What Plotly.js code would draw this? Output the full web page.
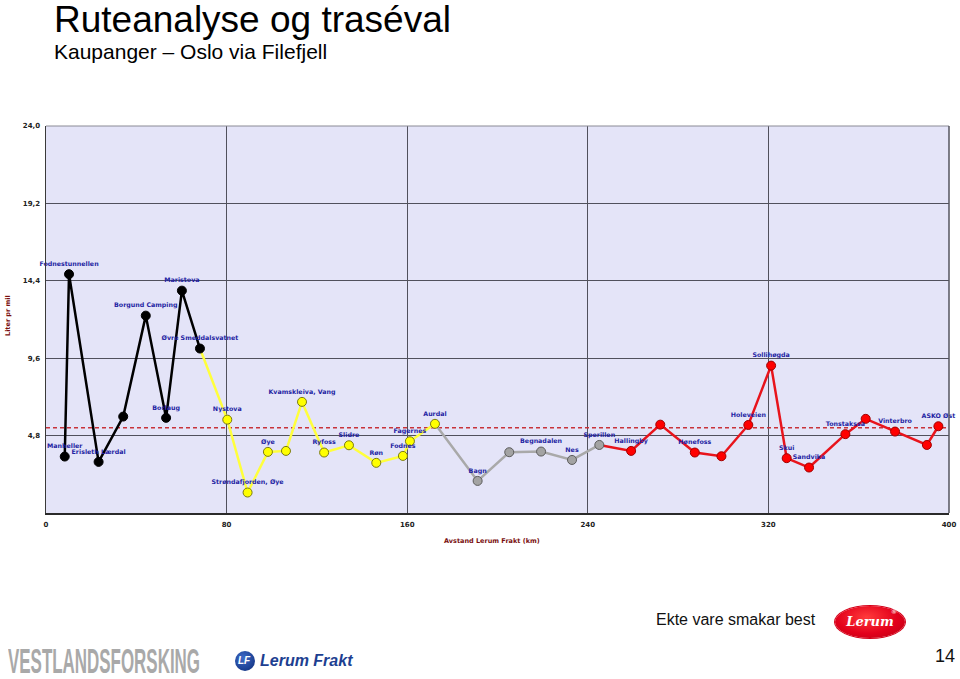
<!DOCTYPE html>
<html>
<head>
<meta charset="utf-8">
<script src="https://cdn.plot.ly/plotly-3.0.1.min.js"></script>
<style>
  html, body { margin: 0; padding: 0; background: #fff; }
  #wrap { position: relative; width: 960px; height: 679px; overflow: hidden; }
  #chart { position: absolute; left: 0; top: 0; width: 960px; height: 679px; }
  .ov { position: absolute; white-space: nowrap; line-height: 1; }
</style>
</head>
<body>
<div id="wrap">
  <div id="chart"></div>
  <div class="ov" id="slogan" style="left:656px; top:612px; font-family:'Liberation Sans', Arial, sans-serif; font-size:16px; color:#111;">Ekte vare smakar best</div>
  <div class="ov" id="lerumOval" style="left:835px; top:606px; width:70px; height:32px; border-radius:50%; background:radial-gradient(ellipse at 45% 35%, #ff3b3b 0%, #e3001b 55%, #b80012 100%); box-shadow:0 0 0 1px #d40018;"></div>
  <div class="ov" id="lerumTxt" style="left:845px; top:615px; font-family:'DejaVu Serif', serif; font-style:italic; font-weight:bold; font-size:13px; color:#fff;">Lerum</div>
  <div class="ov" style="left:891px; top:609px; font-family:'DejaVu Sans', sans-serif; font-size:6px; color:#fff;">®</div>
  <div class="ov" id="page" style="left:935px; top:647px; font-family:'Liberation Sans', Arial, sans-serif; font-size:18px; color:#111;">14</div>
  <div class="ov" id="vest" style="left:8px; top:643px; font-family:'Liberation Sans', Arial, sans-serif; font-weight:bold; font-size:35px; color:#a9a9a9; transform-origin:0 0;">VESTLANDSFORSKING</div>
  <div class="ov" style="left:235px; top:651px; width:20px; height:20px; border-radius:50%; background:radial-gradient(circle at 40% 35%, #3f6cc9 0%, #1a3d8f 70%, #10296a 100%);"></div>
  <div class="ov" style="left:238px; top:656px; font-family:'Liberation Sans', Arial, sans-serif; font-style:italic; font-weight:bold; font-size:10px; color:#fff;">LF</div>
  <div class="ov" style="left:260px; top:653px; font-family:'Liberation Sans', Arial, sans-serif; font-style:italic; font-weight:bold; font-size:16px; color:#1d3f91;">Lerum Frakt</div>
</div>
<script>
// ---------- data ----------
const blackKm = [8.3, 10.2, 23.3, 34.2, 44.2, 53.2, 60.2, 68.2];
const blackL  = [3.50, 14.81, 3.17, 5.98, 12.24, 5.90, 13.79, 10.20];
const blackNames = ['Manheller', 'Fodnestunnellen', 'Erisleth Lærdal', '', 'Borgund Camping', 'Borlaug', 'Maristova', 'Øvre Smeddalsvatnet'];

const yellowKm = [80.3, 89.3, 98.3, 106.3, 113.4, 123.2, 134.2, 146.3, 158.1, 161.2, 172.3];
const yellowL  = [5.79, 1.27, 3.79, 3.85, 6.89, 3.75, 4.20, 3.11, 3.54, 4.45, 5.53];
const yellowNames = ['Nystova', 'Strøndafjorden, Øye', 'Øye', '', 'Kvamskleiva, Vang', 'Ryfoss', 'Slidre', 'Røn', 'Fodnes', 'Fagernes', 'Aurdal'];

const greyKm = [191.2, 205.2, 219.3, 233.0, 245.1];
const greyL  = [1.99, 3.77, 3.81, 3.29, 4.22];
const greyNames = ['Bagn', '', 'Begnadalen', 'Nes', 'Sperillen'];

const redKm = [259.2, 272.1, 287.4, 299.2, 311.1, 321.2, 328.1, 338.0, 354.1, 363.1, 376.1, 390.2, 395.3];
const redL  = [3.85, 5.48, 3.75, 3.52, 5.46, 9.14, 3.40, 2.82, 4.89, 5.84, 5.05, 4.22, 5.38];
const redNames = ['Hallingby', '', 'Hønefoss', '', 'Holeveien', 'Sollihøgda', 'Skui', 'Sandvika', 'Tonstakssa', '', 'Vinterbro', '', 'ASKO Øst'];

const averageL = 5.28;
const xTicks = [0, 80, 160, 240, 320, 400];
const yTicks = [4.8, 9.6, 14.4, 19.2, 24.0];

// ---------- geometry helpers (plot area in px) ----------
const PL = 46, PR = 949, PT = 126, PB = 513;
const px2x = p => (p - PL) / (PR - PL);
const py2y = p => (PB - p) / (PB - PT);

const labelFont = {family: 'DejaVu Sans', size: 6.3, color: '#1f1fa3', weight: 'bold'};

function lineTrace(xs, ys, prevX, prevY, color) {
  const x = prevX === null ? xs.slice() : [prevX].concat(xs);
  const y = prevY === null ? ys.slice() : [prevY].concat(ys);
  return {x, y, mode: 'lines', type: 'scatter', hoverinfo: 'skip',
          line: {color, width: 2.5}, showlegend: false, cliponaxis: false};
}
function markerTrace(xs, ys, names, fill, edge) {
  return {x: xs, y: ys, text: names, mode: 'markers+text', type: 'scatter',
          textposition: 'top center', textfont: labelFont,
          marker: {size: 9, color: fill, line: {color: edge, width: 1}},
          showlegend: false, cliponaxis: false};
}

const last = a => a[a.length - 1];

const traces = [
  {x: [0, 400], y: [averageL, averageL], mode: 'lines', type: 'scatter', hoverinfo: 'skip',
   line: {color: '#c8333a', width: 1.5, dash: '4px,3px'}, showlegend: false},
  lineTrace(blackKm, blackL, null, null, '#000000'),
  lineTrace(yellowKm, yellowL, last(blackKm), last(blackL), '#ffff3c'),
  lineTrace(greyKm, greyL, last(yellowKm), last(yellowL), '#a9a9a9'),
  lineTrace(redKm, redL, last(greyKm), last(greyL), '#e8141c'),
  markerTrace(blackKm, blackL, blackNames, '#000000', '#000000'),
  markerTrace(yellowKm, yellowL, yellowNames, '#ffff00', '#7a7a10'),
  markerTrace(greyKm, greyL, greyNames, '#a3a3a3', '#5c5c5c'),
  markerTrace(redKm, redL, redNames, '#ff0000', '#a00000')
];

const tickFont = {family: 'DejaVu Sans', size: 7, color: '#222', weight: 'bold'};

const layout = {
  width: 960, height: 679,
  margin: {l: PL, r: 960 - PR, t: PT, b: 679 - PB, pad: 0},
  paper_bgcolor: '#ffffff', plot_bgcolor: '#e4e4f8',
  separators: ', ',
  showlegend: false,
  xaxis: {range: [0, 400], tickmode: 'array', tickvals: xTicks, ticktext: xTicks.map(String),
          showgrid: true, gridcolor: '#50505c', gridwidth: 1, zeroline: false,
          showline: true, linecolor: '#2a2a2a', linewidth: 2, ticks: '', tickfont: tickFont,
          ticklabelstandoff: 4, fixedrange: true},
  yaxis: {range: [0, 24], tickmode: 'array', tickvals: yTicks, tickformat: '.1f',
          showgrid: true, gridcolor: '#50505c', gridwidth: 1, zeroline: false,
          showline: true, linecolor: '#3a3a3a', linewidth: 1.5, ticks: '', tickfont: tickFont,
          ticklabelstandoff: 3, fixedrange: true},
  shapes: [
    {type: 'line', xref: 'paper', yref: 'paper', x0: 0, x1: 1, y0: 1, y1: 1, line: {color: '#8a8a95', width: 1}},
    {type: 'line', xref: 'paper', yref: 'paper', x0: 1, x1: 1, y0: 0, y1: 1, line: {color: '#55555f', width: 1.5}}
  ],
  annotations: [
    {text: 'Ruteanalyse og traséval', xref: 'paper', yref: 'paper', x: px2x(52), y: py2y(19),
     xanchor: 'left', yanchor: 'middle', showarrow: false,
     font: {family: 'Liberation Sans', size: 37, color: '#000'}},
    {text: 'Kaupanger – Oslo via Filefjell', xref: 'paper', yref: 'paper', x: px2x(52), y: py2y(51),
     xanchor: 'left', yanchor: 'middle', showarrow: false,
     font: {family: 'Liberation Sans', size: 21, color: '#000'}},
    {text: 'Avstand Lerum Frakt (km)', xref: 'paper', yref: 'paper', x: px2x(492), y: py2y(541),
     xanchor: 'center', yanchor: 'middle', showarrow: false,
     font: {family: 'DejaVu Sans', size: 6.5, color: '#7a1010', weight: 'bold'}},
    {text: 'Liter pr mil', xref: 'paper', yref: 'paper', x: px2x(8), y: py2y(316), textangle: -90,
     xanchor: 'center', yanchor: 'middle', showarrow: false,
     font: {family: 'DejaVu Sans', size: 6.5, color: '#7a1010', weight: 'bold'}}
  ]
};

Plotly.newPlot('chart', traces, layout, {staticPlot: true, displayModeBar: false}).then(() => {
  const v = document.getElementById('vest');
  const w = v.getBoundingClientRect().width;
  if (w > 0) v.style.transform = 'scaleX(' + (192 / w) + ')';
  const t = document.getElementById('lerumTxt');
  const tw = t.getBoundingClientRect().width;
  t.style.left = (870 - tw / 2) + 'px';
});
</script>
</body>
</html>
